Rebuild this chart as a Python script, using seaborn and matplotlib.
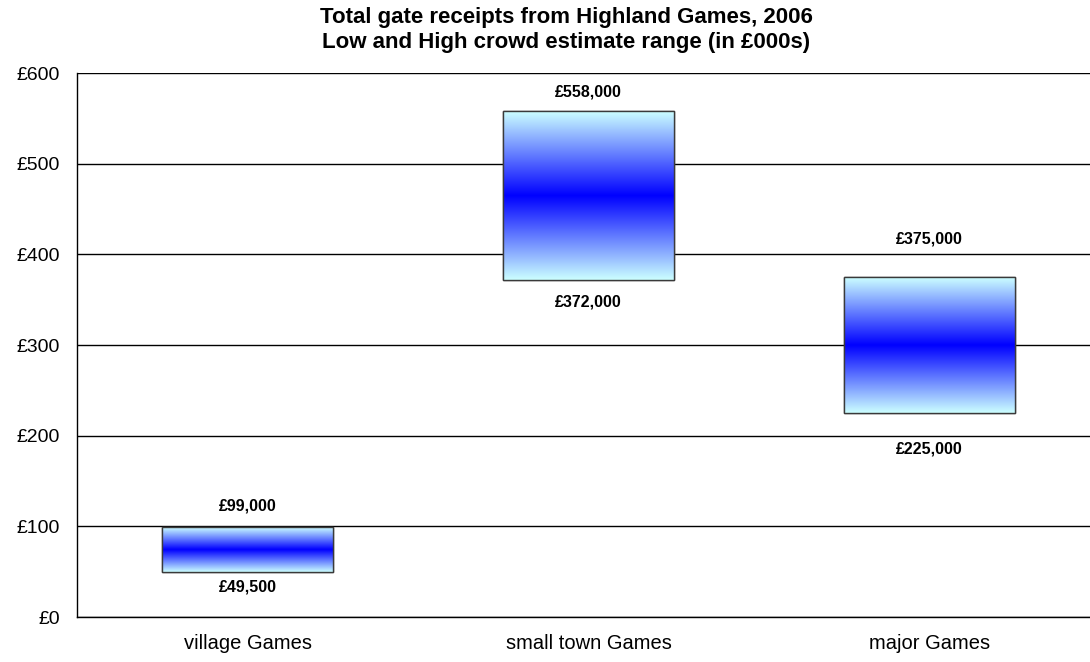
import numpy as np
import pandas as pd
import matplotlib
matplotlib.use("Agg")
import matplotlib.pyplot as plt
import seaborn as sns
from matplotlib.colors import LinearSegmentedColormap
from matplotlib.patches import Rectangle

# Gate receipts range per type of Highland Games (in £000s)
categories = ["village Games", "small town Games", "major Games"]
low_values = [49.5, 372, 225]
high_values = [99, 558, 375]
y_ticks = [0, 100, 200, 300, 400, 500, 600]

# vertical offsets (points) of the value labels above / below each bar
high_label_offset = [15, 14, 27]
low_label_offset = [11, 16, 26]

df = pd.DataFrame({"category": categories, "low": low_values, "high": high_values})
df["span"] = df["high"] - df["low"]

sns.set_theme(style="white")
plt.rcParams["font.family"] = ["Liberation Sans", "DejaVu Sans"]
plt.rcParams["text.color"] = "black"
plt.rcParams["xtick.color"] = "black"
plt.rcParams["ytick.color"] = "black"

fig = plt.figure(figsize=(10.9, 6.62), dpi=100)
ax = fig.add_axes([77 / 1090, 45 / 662, 1023 / 1090, 544 / 662])

edge_dark = "#3a3a3a"
light = (204 / 255, 1.0, 1.0)
sns.barplot(data=df, x="category", y="span", bottom=df["low"].values,
            color=light, saturation=1, width=0.5, edgecolor=edge_dark,
            linewidth=1.0, ax=ax, zorder=3)

# two-colour "centre" gradient: light turquoise at the edges, pure blue in the middle
cmap = LinearSegmentedColormap.from_list("centre", [light, (0, 0, 1), light])
grad = np.linspace(0, 1, 256).reshape(-1, 1)
for patch in list(ax.patches):
    x0, y0 = patch.get_x(), patch.get_y()
    w, h = patch.get_width(), patch.get_height()
    im = ax.imshow(grad, cmap=cmap, aspect="auto", origin="lower",
                   extent=[x0, x0 + w, y0, y0 + h], zorder=3.5,
                   interpolation="bilinear")
    im.set_clip_path(patch)
    ax.add_patch(Rectangle((x0, y0), w, h, facecolor="none",
                           edgecolor=edge_dark, linewidth=1.0, zorder=4))

# value labels in pounds
for i, (lo, hi) in enumerate(zip(low_values, high_values)):
    ax.annotate(f"£{hi * 1000:,.0f}", (i, hi), xytext=(0, high_label_offset[i]),
                textcoords="offset points", ha="center", va="center",
                fontsize=11.5, fontweight="bold", color="black", zorder=5)
    ax.annotate(f"£{lo * 1000:,.0f}", (i, lo), xytext=(0, -low_label_offset[i]),
                textcoords="offset points", ha="center", va="center",
                fontsize=11.5, fontweight="bold", color="black", zorder=5)

ax.set_xlim(-0.5, len(categories) - 0.5)
ax.set_ylim(0, 600)
ax.set_yticks(y_ticks)
ax.set_yticklabels([f"£{v}" for v in y_ticks], fontsize=14)
ax.yaxis.grid(True, color="black", linewidth=1.0)
ax.set_axisbelow(True)

ax.set_xticks(range(len(categories)))
ax.set_xticklabels(categories, fontsize=14.5)
ax.set_xticks(np.arange(-0.5, len(categories)), minor=True)
ax.tick_params(axis="x", which="major", length=0, pad=12, colors="black")
ax.tick_params(axis="x", which="minor", length=7, width=1, color="black", direction="out")
ax.tick_params(axis="y", which="major", length=5, width=1, color="black",
               direction="out", pad=7, labelcolor="black")
ax.set_xlabel("")
ax.set_ylabel("")

for side in ("top", "right"):
    ax.spines[side].set_visible(False)
for side in ("left", "bottom"):
    ax.spines[side].set_color("black")
    ax.spines[side].set_linewidth(1.0)

fig.suptitle("Total gate receipts from Highland Games, 2006\nLow and High crowd estimate range (in £000s)",
             x=566 / 1090, y=1 - 30 / 662, va="center", fontsize=16,
             fontweight="bold", linespacing=1.25, color="black")

fig.savefig("out.png", dpi=100, facecolor="white")
